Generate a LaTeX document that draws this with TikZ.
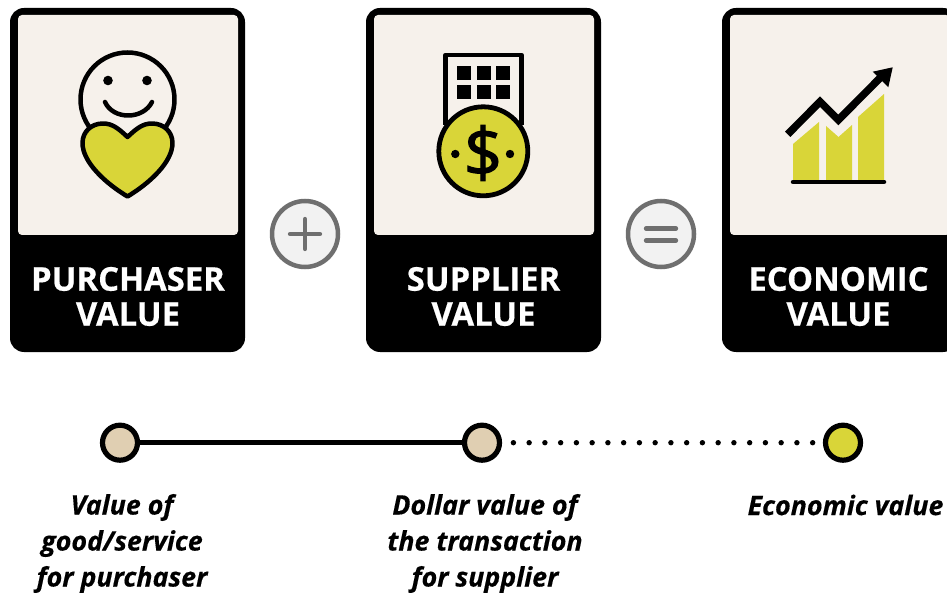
\documentclass[tikz,border=0pt]{standalone}
\usepackage{fontspec}
\setmainfont[BoldFeatures={FakeBold=0.5},BoldItalicFeatures={FakeBold=0.4}]{Open Sans}
\usetikzlibrary{calc}
\definecolor{cream}{HTML}{F6F1EB}
\definecolor{lime}{HTML}{D9D538}
\definecolor{tan}{HTML}{E0CFB2}
\definecolor{ring}{HTML}{6F6F6F}
\definecolor{ringfill}{HTML}{F2F2F2}
\tikzset{
  card/.style={fill=black,draw=none,rounded corners=14pt,minimum width=235pt,minimum height=344pt,inner sep=0pt,outer sep=0pt},
  panel/.style={fill=cream,draw=none,rounded corners=4pt,minimum width=220pt,minimum height=220pt,inner sep=0pt,outer sep=0pt},
  cardtitle/.style={text=white,font=\fontsize{32.8}{35}\selectfont\bfseries,align=center,inner sep=0pt},
  opring/.style={circle,draw=ring,line width=4.5pt,fill=ringfill,minimum size=66pt,inner sep=0pt},
  opmark/.style={draw=ring,line width=4.3pt,line cap=round},
  icon/.style={draw=black,line width=4.5pt,line join=round},
  stop/.style={circle,draw=black,line width=5.2pt,minimum size=35pt,inner sep=0pt},
  caption/.style={font=\fontsize{26.8}{36}\selectfont\bfseries\itshape,align=center,inner sep=0pt}
}
\begin{document}
\begin{tikzpicture}[x=1pt,y=-1pt]
\useasboundingbox (0,0) rectangle (947,593);
\clip (0,0) rectangle (947,593);
% cards
\node[card] (card1) at (127.5,180) {};
\node[card] (card2) at (483.5,180) {};
\node[card] (card3) at (839.5,180) {};
\node[panel] (panel1) at (128,125) {};
\node[panel] (panel2) at (484,125) {};
\node[panel] (panel3) at (840,125) {};
\node[cardtitle] (title1) at (128,296.5) {PURCHASER\\VALUE};
\node[cardtitle] (title2) at (483.5,296.5) {SUPPLIER\\VALUE};
\node[cardtitle] (title3) at (838.5,296.5) {ECONOMIC\\VALUE};
% operators
\node[opring] (plus) at (305,234) {};
\draw[opmark] ($(plus)+(-15,0)$) -- ($(plus)+(15,0)$);
\draw[opmark] ($(plus)+(0,-15)$) -- ($(plus)+(0,15)$);
\node[opring] (equals) at (661,234) {};
\draw[opmark] ($(equals)+(-15,-5.5)$) -- ($(equals)+(15,-5.5)$);
\draw[opmark] ($(equals)+(-15,6.5)$) -- ($(equals)+(15,6.5)$);
% smiley with heart
\draw[icon] (127.5,99.5) circle (47);
\fill (108,80.5) circle (4.8) (147,80.5) circle (4.8);
\draw[icon,line cap=round] (105,102) .. controls (113,120) and (143,120) .. (152,102);
\draw[icon,fill=lime] (127.5,137) .. controls (118,128) and (112,123.5) .. (103,123.5)
  .. controls (91,123.5) and (82.5,132) .. (82.5,143)
  .. controls (82.5,162) and (105,183) .. (127.5,196.5)
  .. controls (150,183) and (172.5,162) .. (172.5,143)
  .. controls (172.5,132) and (164,123.5) .. (152,123.5)
  .. controls (143,123.5) and (137,128) .. (127.5,137) -- cycle;
% building with coin
\draw[icon] (445.5,125) -- (445.5,55) -- (521.5,55) -- (521.5,125);
\foreach \wx in {457,476.5,496} \foreach \wy in {66,85} \fill (\wx,\wy) rectangle ++(14,14);
\node[circle,draw=black,line width=4.8pt,fill=lime,minimum size=89pt,inner sep=0pt] (coin) at (483.3,151.3) {};
\fill (455.3,154) circle (4.2) (510,154) circle (4.2);
\node[inner sep=0pt,font=\fontsize{68}{68}\selectfont\addfontfeature{FakeBold=1.6}] (dollar) at (483,153) {\$};
% chart
\fill[lime] (793,144) -- (819,122) -- (819,180) -- (793,180) -- cycle;
\fill[lime] (826,126) -- (838.5,137) -- (852,125) -- (852,180) -- (826,180) -- cycle;
\fill[lime] (858,117) -- (884,94) -- (884,180) -- (858,180) -- cycle;
\draw[black,line width=4.5pt,line cap=round] (793,182) -- (884,182);
\draw[black,line width=7.5pt,line join=miter] (787.7,134.3) -- (820,101.7) -- (838.3,120) -- (880,78);
\fill (892.7,67.3) -- (872.7,71.7) -- (888.3,87.3) -- cycle;
% timeline
\node[stop,fill=tan] (stopa) at (120,442.7) {};
\node[stop,fill=tan] (stopb) at (482,442.7) {};
\node[stop,fill=lime] (stopc) at (843,442.7) {};
\draw[black,line width=5pt] (stopa) -- (stopb);
\draw[black,line width=5.4pt,line cap=round,dash pattern=on 0pt off 15.75pt,shorten <=11.3pt,shorten >=10pt] (stopb) -- (stopc);
% captions
\node[caption] (capa) at (122,543.5) {Value of\\good/service\\for purchaser};
\node[caption] (capb) at (485,543.5) {Dollar value of\\the transaction\\for supplier};
\node[caption] (capc) at (845.5,505) {Economic value};
\end{tikzpicture}
\end{document}
